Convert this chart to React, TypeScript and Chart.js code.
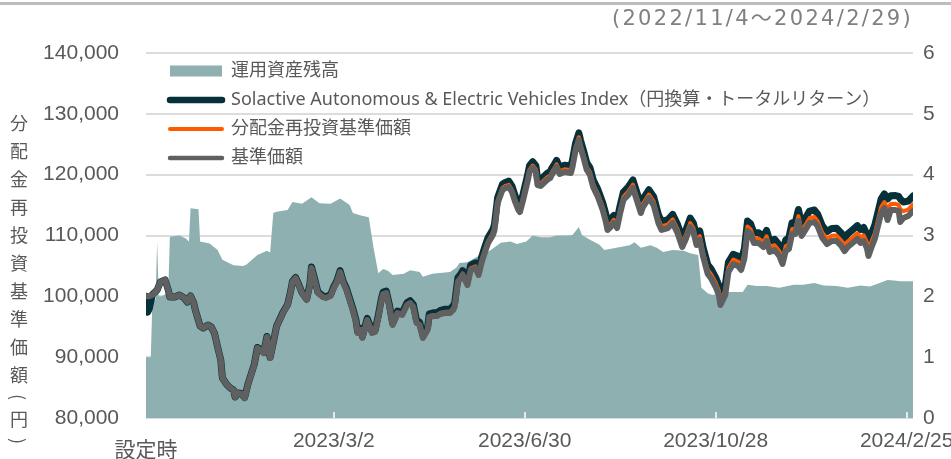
import React, { useEffect, useRef } from 'react';
import { Chart, registerables } from 'chart.js';

Chart.register(...registerables);

// x axis: days since fund launch (2022/11/4 = day 0, 2024/2/29 = day 482)
const tickDays = [0, 118, 238, 358, 478];
const tickLabels = ['設定時', '2023/3/2', '2023/6/30', '2023/10/28', '2024/2/25'];
const subtitle = '(2022/11/4～2024/2/29)';
const yTitle = '分配金再投資基準価額(円)';

const seriesNames = [
  '運用資産残高',
  'Solactive Autonomous & Electric Vehicles Index（円換算・トータルリターン）',
  '分配金再投資基準価額',
  '基準価額',
];

const navDays = [
  0, 1, 2, 4, 7, 9, 12, 14, 15, 18,
  21, 24, 26, 28, 30, 31, 34, 36, 39, 41,
  43, 45, 47, 48, 51, 53, 55, 56, 58, 60,
  62, 64, 66, 68, 70, 72, 74, 76, 78, 80,
  82, 84, 86, 89, 91, 92, 94, 96, 98, 100,
  101, 103, 104, 106, 108, 111, 113, 116, 118, 120,
  122, 124, 126, 128, 130, 132, 133, 135, 136, 139,
  141, 142, 144, 146, 148, 149, 151, 153, 155, 157,
  158, 161, 164, 166, 168, 170, 172, 174, 177, 178,
  181, 183, 185, 188, 191, 193, 194, 196, 198, 199,
  202, 204, 207, 209, 211, 213, 215, 218, 219, 221,
  224, 226, 228, 230, 232, 234, 235, 237, 240, 241,
  243, 245, 246, 248, 250, 252, 254, 255, 257, 258,
  260, 263, 267, 268, 270, 272, 273, 275, 277, 279,
  281, 284, 287, 289, 290, 292, 294, 296, 298, 300,
  303, 306, 309, 311, 312, 316, 319, 322, 324, 328,
  331, 334, 337, 339, 342, 344, 346, 348, 350, 353,
  355, 358, 360, 361, 364, 366, 369, 372, 374, 376,
  378, 380, 382, 385, 388, 390, 392, 395, 398, 400,
  402, 404, 406, 408, 410, 412, 414, 417, 420, 422,
  425, 428, 431, 434, 437, 439, 441, 444, 447, 449,
  451, 453, 454, 456, 458, 460, 462, 464, 466, 468,
  471, 473, 474, 476, 479, 482,
];

// 基準価額
const navValues = [
  100000, 100000, 100000, 100220, 101040, 102360, 102690, 101040, 99890, 99890,
  100220, 99730, 99070, 100060, 98900, 97750, 95120, 94800, 95290, 94960,
  93970, 91670, 89530, 86580, 85430, 84930, 84600, 83450, 84110, 83950,
  83290, 85430, 87070, 88710, 91510, 91180, 90690, 93320, 89860, 92330,
  94960, 96110, 97260, 98580, 100880, 102360, 103010, 101860, 100550, 99730,
  99400, 101860, 104660, 102690, 100550, 99890, 99730, 100060, 101370, 102360,
  104000, 102190, 101040, 99400, 97750, 95780, 93970, 94470, 93150, 96110,
  94800, 93970, 94140, 96600, 99400, 100380, 100550, 98250, 95290, 96440,
  97260, 96930, 98580, 98900, 98250, 95620, 95290, 93150, 94470, 96600,
  96770, 96770, 97100, 97260, 97260, 97750, 98250, 102360, 103010, 103510,
  101860, 104330, 104660, 103510, 105640, 107290, 108770, 110080, 110900, 115340,
  117480, 117810, 117970, 117150, 115510, 114190, 113860, 115840, 119120, 120440,
  121100, 120440, 118300, 118140, 118630, 119120, 119450, 119950, 120770, 121260,
  120110, 120440, 120270, 121260, 124060, 125700, 124550, 122740, 120770, 119950,
  117970, 116330, 114190, 112220, 110910, 111400, 112060, 111230, 113700, 115840,
  116660, 117810, 115340, 113700, 114520, 116170, 115010, 112060, 110910, 111230,
  112060, 110410, 108110, 109260, 111400, 110580, 108440, 109260, 106630, 103670,
  103010, 101540, 100220, 98580, 100220, 104000, 105320, 104990, 104330, 106140,
  110740, 110250, 108770, 108770, 108110, 109100, 107290, 107620, 106630, 105320,
  107450, 107780, 110250, 110250, 112380, 109920, 110740, 112060, 112220, 111560,
  109590, 108600, 109100, 109100, 108270, 107450, 108110, 108770, 109430, 108770,
  109100, 107950, 106630, 108110, 109430, 111560, 113700, 114520, 112550, 114190,
  114190, 114030, 112220, 112880, 113210, 114030,
];

// 分配金再投資基準価額
const reinvestValues = [
  100000, 100000, 100000, 100220, 101040, 102360, 102690, 101040, 99890, 99890,
  100220, 99730, 99070, 100060, 98900, 97750, 95120, 94800, 95290, 94960,
  93970, 91670, 89530, 86580, 85430, 84930, 84600, 83450, 84110, 83950,
  83290, 85430, 87070, 88710, 91510, 91180, 90690, 93320, 89860, 92330,
  94960, 96110, 97260, 98580, 100880, 102360, 103010, 101860, 100550, 99730,
  99400, 101860, 104660, 102690, 100550, 99890, 99730, 100060, 101370, 102360,
  104000, 102190, 101040, 99400, 97750, 95780, 93970, 94470, 93150, 96110,
  94800, 93970, 94140, 96600, 99400, 100380, 100560, 98270, 95320, 96480,
  97300, 96990, 98650, 98980, 98340, 95720, 95400, 93270, 94610, 96740,
  96930, 96940, 97280, 97450, 97470, 97970, 98470, 102590, 103250, 103760,
  102120, 104600, 104950, 103810, 105950, 107610, 109100, 110420, 111240, 115680,
  117830, 118170, 118330, 117520, 115880, 114570, 114240, 116220, 119510, 120830,
  121500, 120840, 118700, 118550, 119040, 119540, 119870, 120370, 121200, 121690,
  120540, 120880, 120720, 121710, 124510, 126160, 125010, 123200, 121240, 120430,
  118450, 116820, 114690, 112720, 111420, 111910, 112580, 111750, 114230, 116370,
  117200, 118360, 115890, 114260, 115080, 116740, 115590, 112650, 111500, 111830,
  112670, 111030, 108730, 109890, 112040, 111220, 109090, 109920, 107290, 104340,
  103690, 102230, 100910, 99270, 100920, 104710, 106030, 105710, 105060, 106870,
  111480, 110990, 109520, 109520, 108870, 109870, 108060, 108400, 107420, 106110,
  108250, 108580, 111060, 111060, 113190, 110740, 111560, 112890, 113060, 112400,
  110440, 109460, 109970, 109980, 109160, 108350, 109010, 109680, 110350, 109700,
  110040, 108900, 107580, 109070, 110390, 112530, 114680, 115500, 114300, 115190,
  115200, 115040, 114300, 114000, 114260, 115100,
];

// Solactive Autonomous & Electric Vehicles Index (円換算・トータルリターン)
const indexValues = [
  100000, 97400, 97900, 100300, 101040, 102360, 102690, 101040, 99890, 99890,
  100220, 99730, 99070, 100060, 98900, 97750, 95120, 94800, 95290, 94960,
  93970, 91670, 89530, 86580, 85430, 84930, 84600, 83450, 84110, 84030,
  83370, 85510, 87150, 88790, 91590, 91260, 90770, 93400, 89940, 92410,
  95040, 96190, 97340, 98660, 100960, 102440, 103090, 101940, 100630, 99890,
  99560, 102030, 104840, 102870, 100740, 100090, 99930, 100270, 101590, 102580,
  104230, 102420, 101280, 99640, 98000, 96040, 94230, 94730, 93420, 96380,
  95080, 94250, 94430, 96890, 99700, 100680, 100850, 98560, 95600, 96760,
  97590, 97270, 98950, 99290, 98660, 96050, 95740, 93620, 94970, 97110,
  97310, 97330, 97690, 97880, 97910, 98420, 98930, 103060, 103730, 104240,
  102620, 105110, 105480, 104350, 106500, 108170, 109670, 110990, 111820, 116270,
  118420, 118760, 118930, 118120, 116490, 115180, 114860, 116840, 120130, 121460,
  122120, 121480, 119340, 119190, 119690, 120190, 120530, 121030, 121860, 122360,
  121210, 121560, 121410, 122400, 125210, 126860, 125720, 123910, 121950, 121140,
  119170, 117540, 115410, 113450, 112140, 112640, 113310, 112490, 114970, 117120,
  117950, 119120, 116660, 115030, 115850, 117520, 116370, 113430, 112290, 112620,
  113470, 111830, 109550, 110710, 112860, 112050, 109920, 110750, 108130, 105190,
  104540, 103080, 101770, 100140, 101790, 105580, 106920, 106600, 105950, 107770,
  112380, 111900, 110440, 110460, 109830, 110830, 109040, 109390, 108430, 107130,
  109280, 109630, 112110, 112130, 114270, 111830, 112660, 114010, 114190, 113550,
  111600, 110640, 111160, 111180, 110380, 109570, 110250, 110930, 111620, 110970,
  111320, 110190, 108870, 110370, 111710, 113850, 116010, 116840, 116000, 116540,
  116560, 116420, 116000, 115500, 115650, 116490,
];

// 運用資産残高 (right axis)
const aumDays = [
  0, 3, 4, 6, 7, 8, 10, 13, 14, 15,
  21, 25, 27, 28, 33, 34, 40, 45, 48, 55,
  61, 63, 70, 76, 78, 80, 82, 89, 92, 98,
  104, 109, 116, 122, 128, 130, 135, 140, 143, 146,
  149, 152, 155, 162, 166, 172, 174, 180, 191, 195,
  197, 202, 206, 212, 216, 223, 229, 233, 239, 243,
  248, 254, 258, 265, 268, 272, 274, 279, 285, 288,
  294, 298, 304, 307, 311, 317, 321, 325, 331, 338,
  342, 347, 349, 353, 356, 363, 375, 378, 384, 390,
  398, 407, 413, 420, 426, 434, 441, 449, 455, 461,
  466, 470, 474, 482,
];
const aumValues = [
  1.0, 1.0, 1.9, 1.95, 2.9, 2.0, 2.0, 2.05, 2.1, 2.98,
  3.0, 2.95, 2.9, 3.45, 3.43, 2.9, 2.87, 2.76, 2.6, 2.51,
  2.5, 2.52, 2.68, 2.75, 2.72, 3.37, 3.39, 3.42, 3.55, 3.52,
  3.63, 3.53, 3.52, 3.61, 3.5, 3.37, 3.33, 3.3, 2.8, 2.38,
  2.45, 2.42, 2.35, 2.37, 2.43, 2.4, 2.32, 2.37, 2.4, 2.47,
  2.55, 2.56, 2.62, 2.71, 2.75, 2.88, 2.9, 2.86, 2.9, 3.0,
  2.97, 2.97, 3.0, 3.0, 3.01, 3.14, 3.01, 2.93, 2.85, 2.76,
  2.79, 2.81, 2.84, 2.89, 2.8, 2.84, 2.8, 2.73, 2.76, 2.75,
  2.71, 2.68, 2.14, 2.05, 2.02, 2.07, 2.07, 2.19, 2.17, 2.17,
  2.14, 2.19, 2.19, 2.22, 2.18, 2.17, 2.14, 2.18, 2.16, 2.22,
  2.27, 2.26, 2.25, 2.25,
];

const AREA = '#8fb0b0';
const DARK = '#06313a';
const ORANGE = '#ff5a00';
const GRAY = '#606060';
const TEXT = '#595959';
const LATIN = '"Liberation Sans", "Noto Sans CJK JP", sans-serif';
const LEGEND_FONT = '"Noto Sans", "Noto Sans CJK JP", sans-serif';

export default function App() {
  const ref = useRef<HTMLCanvasElement>(null);

  useEffect(() => {
    if (!ref.current) return;
    const pts = (xs: number[], ys: number[]) => xs.map((x, i) => ({ x, y: ys[i] }));

    const legendPlace = {
      id: 'legendPlace',
      afterLayout(chart: any) {
        const lg = chart.legend;
        if (!lg) return;
        lg.left = 159;
        lg.top = 51;
        lg.bottom = 418;
        lg.right = 913;
      },
    };

    const noPad = (s: any) => {
      s.paddingLeft = 0;
      s.paddingRight = 0;
      s.paddingTop = 0;
      s.paddingBottom = 0;
    };

    const chart = new Chart(ref.current, {
      type: 'line',
      data: {
        datasets: [
          {
            label: seriesNames[0],
            data: pts(aumDays, aumValues),
            yAxisID: 'y1',
            fill: 'origin',
            backgroundColor: AREA,
            borderColor: 'rgba(0,0,0,0)',
            borderWidth: 0,
            pointRadius: 0,
            order: 3,
          },
          {
            label: seriesNames[1],
            data: pts(navDays, indexValues),
            yAxisID: 'y',
            borderColor: DARK,
            borderWidth: 7,
            pointRadius: 0,
            fill: false,
            borderJoinStyle: 'round',
            borderCapStyle: 'round',
            order: 2,
          },
          {
            label: seriesNames[2],
            data: pts(navDays, reinvestValues),
            yAxisID: 'y',
            borderColor: ORANGE,
            borderWidth: 4,
            pointRadius: 0,
            fill: false,
            borderJoinStyle: 'round',
            borderCapStyle: 'round',
            order: 1,
          },
          {
            label: seriesNames[3],
            data: pts(navDays, navValues),
            yAxisID: 'y',
            borderColor: GRAY,
            borderWidth: 6,
            pointRadius: 0,
            fill: false,
            borderJoinStyle: 'round',
            borderCapStyle: 'round',
            order: 0,
          },
        ],
      },
      options: {
        animation: false,
        responsive: true,
        maintainAspectRatio: false,
        events: [],
        layout: { autoPadding: false, padding: { top: 53, left: 0, right: 0, bottom: 0 } },
        elements: { line: { tension: 0 } },
        plugins: {
          tooltip: { enabled: false },
          title: { display: false },
          legend: {
            display: true,
            position: 'chartArea',
            align: 'start',
            labels: {
              usePointStyle: true,
              pointStyleWidth: 52,
              boxHeight: 11,
              padding: 11,
              color: TEXT,
              font: { family: LEGEND_FONT, size: 18 },
              generateLabels: () => [
                { text: seriesNames[0], pointStyle: 'rect', fillStyle: AREA, strokeStyle: AREA, lineWidth: 0, hidden: false, datasetIndex: 0, fontColor: TEXT },
                { text: seriesNames[1], pointStyle: 'line', fillStyle: DARK, strokeStyle: DARK, lineWidth: 6.5, lineCap: 'round', hidden: false, datasetIndex: 1, fontColor: TEXT },
                { text: seriesNames[2], pointStyle: 'line', fillStyle: ORANGE, strokeStyle: ORANGE, lineWidth: 4, lineCap: 'round', hidden: false, datasetIndex: 2, fontColor: TEXT },
                { text: seriesNames[3], pointStyle: 'line', fillStyle: GRAY, strokeStyle: GRAY, lineWidth: 4.5, lineCap: 'round', hidden: false, datasetIndex: 3, fontColor: TEXT },
              ] as any,
            },
          },
        },
        scales: {
          x: {
            type: 'linear',
            position: 'bottom',
            min: 0,
            max: 482,
            afterBuildTicks: (s: any) => {
              s.ticks = tickDays.map((v) => ({ value: v }));
            },
            afterFit: (s: any) => {
              s.height = 41;
              noPad(s);
            },
            grid: {
              z: 1,
              drawOnChartArea: false,
              drawTicks: true,
              tickLength: -6,
              lineWidth: 2,
              color: (c: any) => (c.index === 0 ? 'rgba(0,0,0,0)' : '#e8e8e8'),
            },
            border: { display: false },
            ticks: {
              autoSkip: false,
              maxRotation: 0,
              minRotation: 0,
              padding: 17,
              color: TEXT,
              font: (c: any) =>
                c.index === 0
                  ? { family: LATIN, size: 21, lineHeight: 0.7 }
                  : { family: LATIN, size: 21 },
              callback: (v: any) => {
                const i = tickDays.indexOf(Number(v));
                if (i < 0) return '';
                return i === 0 ? ['', tickLabels[0]] : tickLabels[i];
              },
            },
          },
          y: {
            position: 'left',
            min: 80000,
            max: 140000,
            afterFit: (s: any) => {
              s.width = 146;
              noPad(s);
            },
            grid: { color: '#dcdcdc', lineWidth: 2, drawTicks: false },
            border: { display: false },
            ticks: {
              stepSize: 10000,
              padding: 27,
              color: TEXT,
              font: { family: LATIN, size: 21 },
              callback: (v: any) => Number(v).toLocaleString('en-US'),
            },
          },
          y1: {
            position: 'right',
            min: 0,
            max: 6,
            afterFit: (s: any) => {
              s.width = 38;
              noPad(s);
            },
            grid: { drawOnChartArea: false, drawTicks: false },
            border: { display: false },
            ticks: {
              stepSize: 1,
              padding: 10,
              color: TEXT,
              font: { family: LATIN, size: 21 },
            },
          },
        },
      } as any,
      plugins: [legendPlace],
    });

    return () => chart.destroy();
  }, []);

  return (
    <div
      style={{
        position: 'fixed',
        left: 0,
        top: 0,
        width: 951,
        height: 459,
        background: '#ffffff',
        overflow: 'hidden',
      }}
    >
      <canvas ref={ref} width={951} height={459} />
      <div
        style={{
          position: 'absolute',
          left: 0,
          top: 2,
          width: 951,
          height: 3,
          background: '#bdbdbd',
          pointerEvents: 'none',
        }}
      />
      <div
        style={{
          position: 'absolute',
          right: 38,
          top: 5,
          fontFamily: '"DejaVu Sans", "Noto Sans CJK JP", sans-serif',
          fontSize: 21,
          lineHeight: '26px',
          letterSpacing: '2.3px',
          color: '#808080',
          whiteSpace: 'nowrap',
          pointerEvents: 'none',
        }}
      >
        {subtitle}
      </div>
      <div
        style={{
          position: 'absolute',
          left: 10,
          top: 114,
          writingMode: 'vertical-rl',
          fontFamily: '"Noto Sans CJK JP", sans-serif',
          fontSize: 18,
          lineHeight: '18px',
          letterSpacing: '10px',
          color: TEXT,
          whiteSpace: 'nowrap',
          pointerEvents: 'none',
        }}
      >
        {yTitle}
      </div>
    </div>
  );
}
